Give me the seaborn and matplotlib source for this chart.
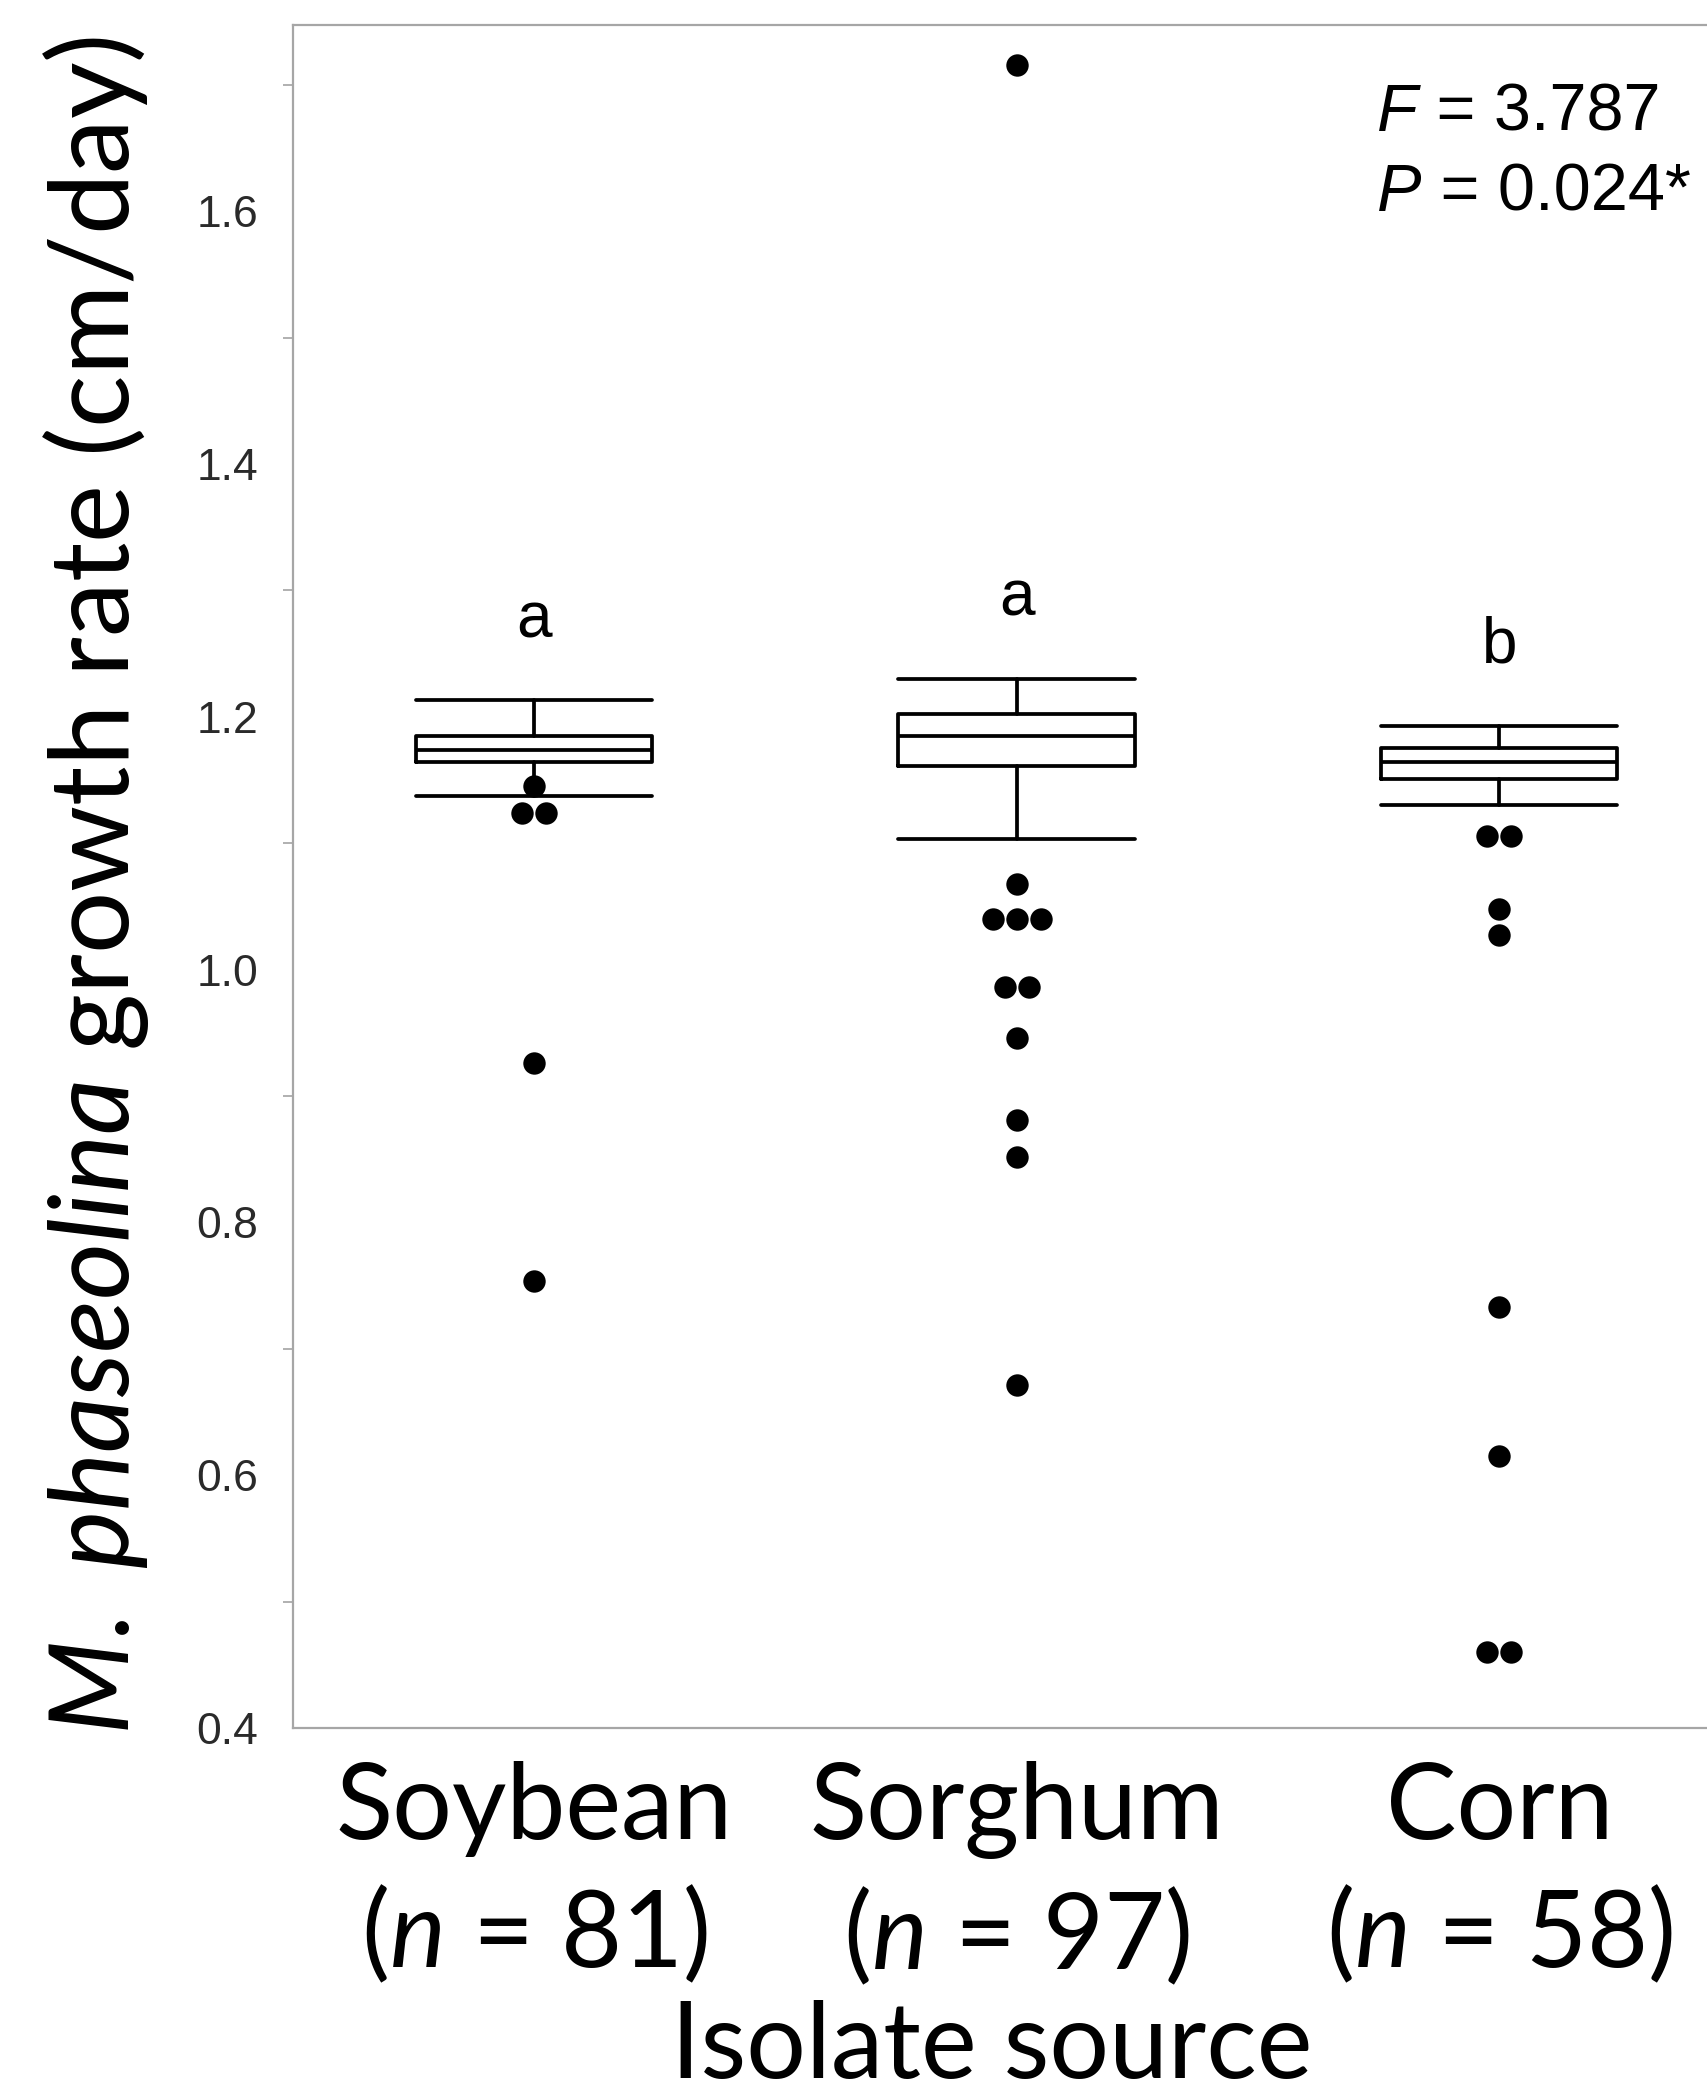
import matplotlib
matplotlib.use("Agg")
import matplotlib.pyplot as plt
import seaborn as sns
import pandas as pd
from matplotlib.ticker import MultipleLocator, FormatStrFormatter

# values
categories = ["Soybean", "Sorghum", "Corn"]
n_isolates = [81, 97, 58]
whisker_low = [1.137, 1.103, 1.130]
q1 = [1.164, 1.161, 1.151]
median = [1.174, 1.185, 1.164]
q3 = [1.185, 1.202, 1.175]
whisker_high = [1.213, 1.230, 1.193]
letters = ["a", "a", "b"]

outliers_soybean = [1.145, 1.124, 1.124, 0.926, 0.754]
outliers_sorghum = [1.716, 1.068, 1.040, 1.040, 1.040, 0.986, 0.986, 0.946, 0.881, 0.852, 0.671]
outliers_corn = [1.106, 1.106, 1.048, 1.027, 0.733, 0.615, 0.460, 0.460]

f_value = 3.787
p_value = 0.024

sns.set_theme(style="white")
plt.rcParams["font.family"] = ["Lato", "DejaVu Sans"]
plt.rcParams["text.color"] = "black"
plt.rcParams["axes.labelcolor"] = "black"
plt.rcParams["xtick.color"] = "black"
plt.rcParams["mathtext.fontset"] = "custom"
plt.rcParams["mathtext.rm"] = "Lato"
plt.rcParams["mathtext.it"] = "Lato:italic"

fig = plt.figure(figsize=(17.08, 20.95), dpi=100)
ax = fig.add_axes([0.1715, 0.1752, 0.8475, 0.8127])

# boxes from summary stats
stats = []
for i in range(len(categories)):
    stats.append({"whislo": whisker_low[i], "q1": q1[i], "med": median[i],
                  "q3": q3[i], "whishi": whisker_high[i], "fliers": []})
lw = 2.7
ax.bxp(stats, positions=range(len(categories)), widths=0.49, capwidths=0.49,
       showfliers=False,
       boxprops=dict(color="black", lw=lw),
       medianprops=dict(color="black", lw=lw),
       whiskerprops=dict(color="black", lw=lw),
       capprops=dict(color="black", lw=lw))

# outliers, tied values stacked side by side
rows = []
for i, vals in enumerate([outliers_soybean, outliers_sorghum, outliers_corn]):
    counts = pd.Series(vals).value_counts()
    seen = {}
    for v in vals:
        k = seen.get(v, 0)
        seen[v] = k + 1
        rows.append({"x": i + (k - (counts[v] - 1) / 2) * 0.05, "y": v})
df_out = pd.DataFrame(rows)
sns.scatterplot(data=df_out, x="x", y="y", color="black", s=260,
                linewidth=0, ax=ax, zorder=5)

for i, lab in enumerate(letters):
    ax.text(i, whisker_high[i] + 0.05, lab, ha="center", va="baseline",
            fontsize=46, family="Liberation Sans")

# F / P statistics, italic letter then the rest
for yy, sym, rest in [(0.938, "F", f" = {f_value:.3f}"), (0.891, "P", f" = {p_value:.3f}*")]:
    t = ax.text(0.749, yy, sym, transform=ax.transAxes, fontsize=48,
                family="Liberation Sans", style="italic", va="baseline")
    ax.annotate(rest, xy=(1, 0), xycoords=t, fontsize=48,
                family="Liberation Sans", va="bottom", ha="left")

ax.set_xlim(-0.5, 2.5)
ax.set_ylim(0.4, 1.747)
ax.yaxis.set_major_locator(MultipleLocator(0.2))
ax.yaxis.set_minor_locator(MultipleLocator(0.1))
ax.yaxis.set_major_formatter(FormatStrFormatter("%.1f"))
ax.set_xticks(range(len(categories)))
ax.set_xticklabels([f"{c}\n($\\it{{n}}$ = {n})" for c, n in zip(categories, n_isolates)],
                   fontsize=76, linespacing=1.3)
ax.tick_params(axis="x", length=0, pad=24)
ax.tick_params(axis="y", which="major", length=16, width=1.3, color="#aaaaaa",
               labelsize=32, labelcolor="#2a2a2a", pad=9)
ax.tick_params(axis="y", which="minor", length=7, width=1.3, color="#aaaaaa", left=True)
for lab in ax.get_yticklabels():
    lab.set_family("Liberation Sans")

for side in ["left", "bottom", "top", "right"]:
    ax.spines[side].set_color("#a6a6a6")
    ax.spines[side].set_linewidth(1.6)

ax.set_xlabel("Isolate source", fontsize=76)
ax.xaxis.set_label_coords(0.483, -0.2055)
ax.xaxis.label.set_verticalalignment("baseline")
ax.set_ylabel("$\\mathit{M.\\ phaseolina}$ growth rate (cm/day)", fontsize=79)
ax.yaxis.set_label_coords(-0.098, 0.495)

fig.savefig("out.png", dpi=100)
